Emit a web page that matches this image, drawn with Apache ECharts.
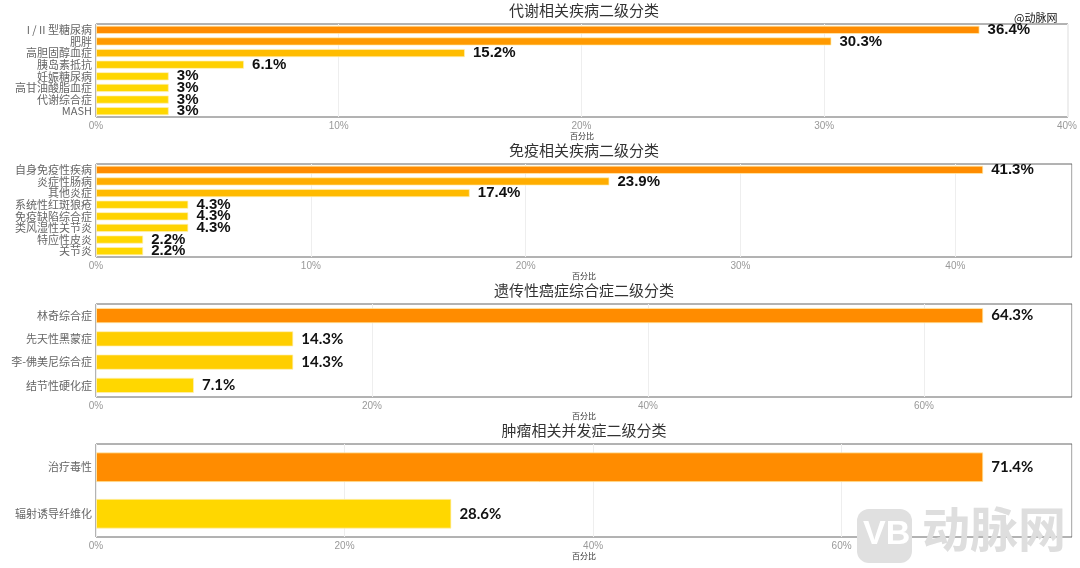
<!DOCTYPE html>
<html><head><meta charset="utf-8">
<script src="https://cdn.jsdelivr.net/npm/echarts@6/dist/echarts.min.js"></script>
<style>html,body{margin:0;padding:0;background:#fff}#c{width:1080px;height:568px}</style>
</head><body><div id="c"></div>
<script>
const titles = ['代谢相关疾病二级分类','免疫相关疾病二级分类','遗传性癌症综合症二级分类','肿瘤相关并发症二级分类'];
const cats1 = ['I / II 型糖尿病','肥胖','高胆固醇血症','胰岛素抵抗','妊娠糖尿病','高甘油酸脂血症','代谢综合症','MASH'];
const vals1 = [36.4, 30.3, 15.2, 6.1, 3, 3, 3, 3];
const cats2 = ['自身免疫性疾病','炎症性肠病','其他炎症','系统性红斑狼疮','免疫缺陷综合症','类风湿性关节炎','特应性皮炎','关节炎'];
const vals2 = [41.3, 23.9, 17.4, 4.3, 4.3, 4.3, 2.2, 2.2];
const cats3 = ['林奇综合症','先天性黑蒙症','李-佛美尼综合症','结节性硬化症'];
const vals3 = [64.3, 14.3, 14.3, 7.1];
const cats4 = ['治疗毒性','辐射诱导纤维化'];
const vals4 = [71.4, 28.6];
const intervals = [10, 10, 20, 20];
const axisName = '百分比';

const cats = [cats1, cats2, cats3, cats4];
const vals = [vals1, vals2, vals3, vals4];
const tops = [24, 164, 304, 444];
const GH = 93;
const labelFonts = ['Liberation Sans','Liberation Sans','Lato','Lato'];
const gaps = ['28%','28%','34%','36%'];

function lerpColor(v, mn, mx) {
  const t = mx === mn ? 1 : (v - mn) / (mx - mn);
  const g = Math.round(215 + (140 - 215) * t);
  return 'rgb(255,' + g + ',0)';
}

const option = {
  backgroundColor: '#fff',
  animation: false,
  title: [], grid: [], xAxis: [], yAxis: [], series: [],
  graphic: [
    { type: 'text', left: 1014, top: 12, z: 10, style: { text: '@动脉网', fill: '#111', font: '11px "Noto Sans CJK SC"' } },
    { type: 'rect', left: 857, top: 509, shape: { width: 55, height: 54, r: 12 }, style: { fill: '#e0e0e0' } },
    { type: 'text', left: 863, top: 518, style: { text: 'VB', fill: '#fff', font: 'bold 34px "Liberation Sans"' } },
    { type: 'text', left: 922, top: 505, style: { text: '动脉网', fill: '#dedede', font: 'bold 48px "Noto Sans CJK SC"' } }
  ]
};

for (let i = 0; i < 4; i++) {
  const mx = Math.max(...vals[i]), mn = Math.min(...vals[i]);
  const iv = intervals[i];
  option.title.push({
    text: titles[i], left: 584, textAlign: 'center', top: tops[i] - 21, padding: 0,
    textStyle: { fontSize: 15, fontWeight: 'normal', color: '#333', fontFamily: 'Noto Sans CJK SC' }
  });
  option.grid.push({ left: 96, right: 8, top: tops[i], height: GH, show: true, borderColor: '#666', borderWidth: 1, backgroundColor: 'transparent' });
  option.xAxis.push({
    type: 'value', gridIndex: i, min: 0, max: Math.round(mx * 1.1 * 100) / 100, interval: iv,
    name: axisName, nameLocation: 'middle', nameGap: 15,
    nameTextStyle: { fontSize: 8, color: '#333', fontFamily: 'Noto Sans CJK SC' },
    axisLine: { show: false }, axisTick: { show: false },
    axisLabel: { fontSize: 10, color: '#999', margin: 4, showMaxLabel: false,
      formatter: v => (Math.abs(v / iv - Math.round(v / iv)) < 1e-6 ? Math.round(v) + '%' : '') },
    splitLine: { show: true, lineStyle: { color: '#eee', width: 1 } }
  });
  option.yAxis.push({
    type: 'category', gridIndex: i, data: cats[i], inverse: true,
    axisLine: { show: false }, axisTick: { show: false },
    axisLabel: { interval: 0, fontSize: 11, lineHeight: 11, color: '#666', margin: 4, fontFamily: 'Noto Sans CJK SC' }
  });
  option.series.push({
    type: 'bar', xAxisIndex: i, yAxisIndex: i, data: vals[i], barCategoryGap: gaps[i],
    itemStyle: { color: p => lerpColor(p.value, mn, mx), borderColor: 'rgba(255,240,180,0.7)', borderWidth: 1 },
    label: { show: true, position: 'right', distance: 8, color: '#111', fontSize: 15, fontWeight: 'bold',
      fontFamily: labelFonts[i], formatter: p => p.value + '%' }
  });
}

const chart = echarts.init(document.getElementById('c'), null, { renderer: 'canvas' });
chart.setOption(option);
</script></body></html>
